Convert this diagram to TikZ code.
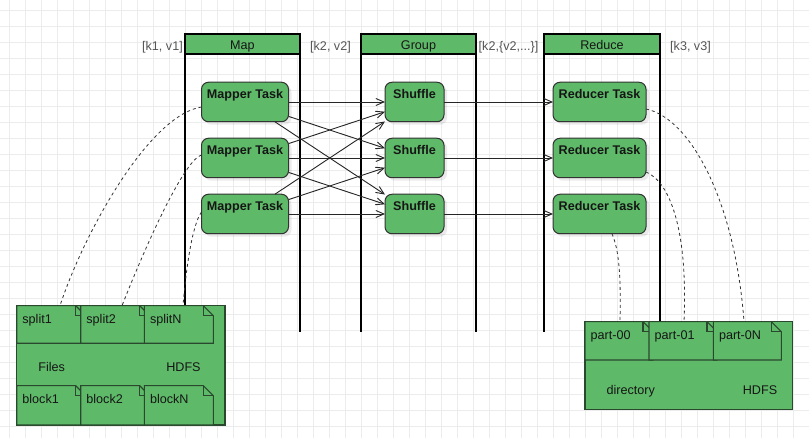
\documentclass[tikz,border=0pt]{standalone}
\usepackage{fontspec}
\setmainfont{Liberation Sans}
\usetikzlibrary{arrows.meta,shadows,calc}
\definecolor{boxgreen}{RGB}{94,186,104}
\definecolor{noteline}{RGB}{42,72,46}
\definecolor{gridc}{RGB}{236,236,236}
\definecolor{lbl}{RGB}{85,85,85}
\definecolor{txt}{RGB}{22,22,22}
\newcommand\dgfont{\fontsize{12.6}{15}\selectfont}
\tikzset{
  task/.style={draw=black!80, line width=1pt, fill=boxgreen, rounded corners=7pt,
    inner sep=0pt, outer sep=0pt, minimum height=39.5pt,
    drop shadow={shadow xshift=3pt, shadow yshift=-3pt, fill=black, opacity=0.08}},
  tasklabel/.style={anchor=north, inner sep=0pt, yshift=-6.5pt,
    font=\dgfont\bfseries, text=txt},
  lanehead/.style={draw=black, line width=2pt, fill=boxgreen, minimum height=20.3pt,
    inner sep=0pt, outer sep=0pt, font=\dgfont, text=txt,
    text height=14pt, text depth=2.4pt},
  laneline/.style={draw=black, line width=2pt},
  keylbl/.style={font=\dgfont, text=lbl, inner sep=0pt, anchor=base},
  flow/.style={draw=black!85, line width=0.9pt, -{Straight Barb[length=8pt,width=7pt]}},
  link/.style={draw=black!80, line width=0.8pt, dash pattern=on 3pt off 3pt},
  notebase/.style={draw=none, inner sep=0pt, outer sep=0pt},
  noteshape/.style={draw=noteline, line width=1.1pt, fill=boxgreen, line join=miter},
  notetext/.style={font=\dgfont, text=txt, inner sep=0pt},
  hdfsbox/.style={draw=noteline, line width=1.1pt, fill=boxgreen, inner sep=0pt, outer sep=0pt},
  gridline/.style={draw=gridc, line width=1pt}
}
\newcommand\hdfsnote[6]{%
  \node[notebase, minimum width=#4pt, minimum height=#5pt, anchor=north west] (#1) at (#2,#3) {};
  \filldraw[noteshape] (#1.north west) -- ([xshift=-10pt]#1.north east) -- ([yshift=-10pt]#1.north east) -- (#1.south east) -- (#1.south west) -- cycle;
  \draw[noteshape,fill=none] ([xshift=-10pt]#1.north east) -- ++(0,10) -- ([yshift=-10pt]#1.north east);
  \node[notetext, anchor=base west] (#1t) at ([xshift=5.5pt,yshift=-17.4pt]#1.north west) {#6};
}
\begin{document}
\begin{tikzpicture}[x=1pt,y=-1pt]
\useasboundingbox (0,0) rectangle (809,438);
\fill[white] (0,0) rectangle (809,438);
% grid
\foreach \i in {0,...,50} \draw[gridline] (9.5+16*\i,0) -- (9.5+16*\i,438);
\foreach \j in {0,...,27} \draw[gridline] (0,10.5+16*\j) -- (809,10.5+16*\j);

% lanes
\node[lanehead, minimum width=115pt] (maph) at (242.5,44.2) {Map};
\node[lanehead, minimum width=115pt] (grouph) at (418.5,44.2) {Group};
\node[lanehead, minimum width=116pt] (reduceh) at (602,44.2) {Reduce};
\foreach \h in {maph,grouph,reduceh}{
  \draw[laneline] (\h.north west) -- ++(0,298);
  \draw[laneline] (\h.north east) -- ++(0,298);
}

% key labels
\node[keylbl, anchor=base east] (k1) at (183,50.5) {[k1, v1]};
\node[keylbl] (k2) at (330.5,50.5) {[k2, v2]};
\node[keylbl] (k3) at (508.5,50.5) {[k2,\{v2,...\}]};
\node[keylbl] (k4) at (690.5,50.5) {[k3, v3]};

% tasks
\foreach \i/\y in {1/102,2/158,3/214}{
  \node[task, minimum width=87pt, label={[tasklabel]north:Mapper Task}] (m\i) at (245,\y) {};
  \node[task, minimum width=59pt, label={[tasklabel]north:Shuffle}] (s\i) at (414.5,\y) {};
  \node[task, minimum width=93pt, label={[tasklabel]north:Reducer Task}] (r\i) at (599.5,\y) {};
}

% flows
\foreach \a in {1,2,3}{
  \foreach \b in {1,2,3}{
    \draw[flow] (m\a) -- (s\b);
  }
  \draw[flow] (s\a) -- (r\a);
}

% Files / HDFS box
\node[hdfsbox, minimum width=208.3pt, minimum height=119.3pt, anchor=north west] (files) at (16.7,305.7) {};
\node[notetext, anchor=base] (filesl) at (51.7,371.3) {Files};
\node[notetext, anchor=base] (filesh) at (183.5,371.3) {HDFS};
\hdfsnote{split1}{16.7}{305.7}{69}{37.6}{split1}
\hdfsnote{split2}{80.7}{305.7}{69}{37.6}{split2}
\hdfsnote{splitN}{144.3}{305.7}{69}{37.6}{splitN}
\hdfsnote{block1}{16.7}{385.7}{69}{39.3}{block1}
\hdfsnote{block2}{80.7}{385.7}{69}{39.3}{block2}
\hdfsnote{blockN}{144.3}{385.7}{69}{39.3}{blockN}

% output directory box
\node[hdfsbox, minimum width=207.7pt, minimum height=87.6pt, anchor=north west] (outdir) at (585,321.7) {};
\node[notetext, anchor=base] (outdirl) at (630.8,395) {directory};
\node[notetext, anchor=base] (outdirh) at (760,395) {HDFS};
\hdfsnote{part0}{585}{321.7}{68}{38.3}{part-00}
\hdfsnote{part1}{649}{321.7}{68}{38.3}{part-01}
\hdfsnote{partN}{713.3}{321.7}{68}{38.3}{part-0N}

% dashed links
\draw[link] ([yshift=-5pt]m1.west) .. controls (150,115) and (85,230) .. ([xshift=43.3pt]split1.north west);
\draw[link] ([yshift=3pt]m2.west) .. controls (185,160) and (150,235) .. ([xshift=41.3pt]split2.north west);
\draw[link] ([yshift=2pt]m3.west) .. controls (192,225) and (186,270) .. ([xshift=38.7pt]splitN.north west);
\draw[link] ([yshift=-7pt]r1.east) .. controls (690,118) and (735,200) .. ([xshift=30.7pt]partN.north west);
\draw[link] ([yshift=-14pt]r2.east) .. controls (670,182) and (688,230) .. ([xshift=35pt]part1.north west);
\draw[link] ([xshift=12.5pt]r3.south) .. controls (619,250) and (621,275) .. ([xshift=35pt]part0.north west);
\end{tikzpicture}
\end{document}
